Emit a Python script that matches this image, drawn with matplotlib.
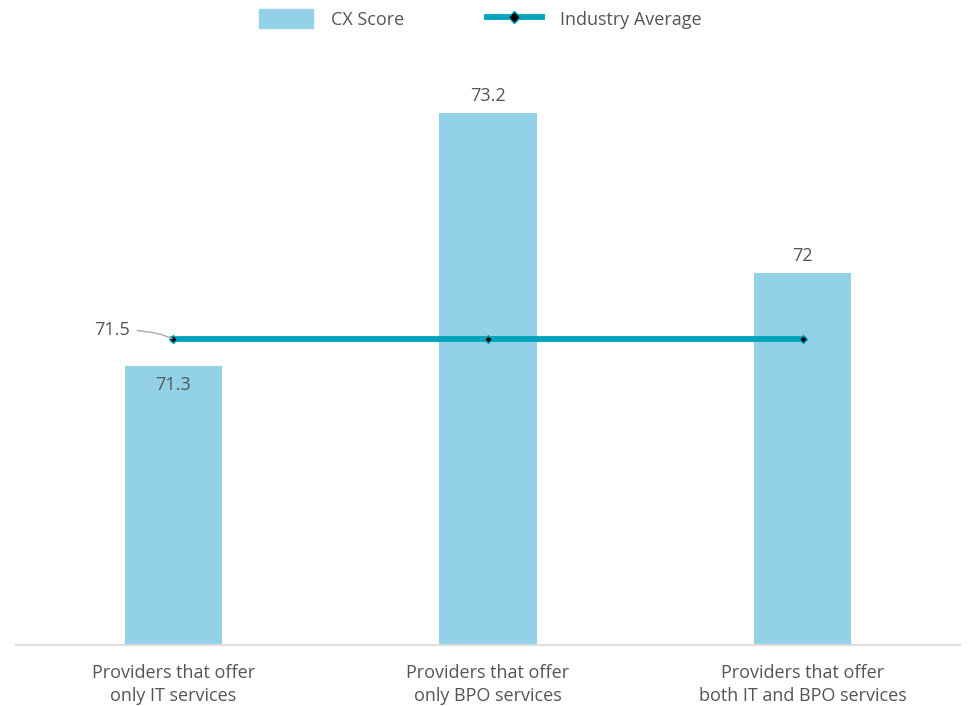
import matplotlib
matplotlib.use("Agg")
from matplotlib import pyplot as plt
from matplotlib.lines import Line2D
from matplotlib.patches import Patch

categories = ["Providers that offer\nonly IT services",
              "Providers that offer\nonly BPO services",
              "Providers that offer\nboth IT and BPO services"]
cx_score = [71.3, 73.2, 72.0]
score_labels = ["71.3", "73.2", "72"]
industry_avg = [71.5, 71.5, 71.5]

bar_col = "#92D1E8"
line_col = "#00A5BD"
txt_col = "#555555"

plt.rcParams["font.family"] = ["Open Sans", "DejaVu Sans"]

fig = plt.figure(figsize=(9.69, 7.06), dpi=100)
ax = fig.add_axes([16 / 969, 61 / 706, 944 / 969, 585 / 706])

x = list(range(len(categories)))
ax.bar(x, cx_score, width=0.31, color=bar_col, zorder=1)
ax.plot(x, industry_avg, color=line_col, lw=4.2, zorder=2,
        marker="D", ms=4, mfc="black", mec=line_col, mew=1)

ax.set_xlim(-0.5, 2.5)
ax.set_ylim(69.205, 73.598)

# value labels: the first one sits inside the bar, under the line
for i, (v, s) in enumerate(zip(cx_score, score_labels)):
    if i == 0:
        ax.annotate(s, (i, v), xytext=(0, -14), textcoords="offset points",
                    ha="center", va="center", fontsize=13, color=txt_col)
    else:
        ax.annotate(s, (i, v), xytext=(0, 12), textcoords="offset points",
                    ha="center", va="center", fontsize=13, color=txt_col)

ax.annotate("71.5", (0, industry_avg[0]), xytext=(-31, 7), textcoords="offset points",
            ha="right", va="center", fontsize=13, color=txt_col,
            arrowprops=dict(arrowstyle="-", color="#aaaaaa", lw=1,
                            shrinkA=3, shrinkB=1,
                            connectionstyle="angle3,angleA=0,angleB=-30"))

for s in ["top", "right", "left"]:
    ax.spines[s].set_visible(False)
ax.spines["bottom"].set_color("#dddddd")
ax.spines["bottom"].set_linewidth(1.5)
ax.set_yticks([])
ax.set_xticks(x)
ax.set_xticklabels(categories, fontsize=13, color=txt_col, linespacing=1.3)
ax.tick_params(axis="x", length=0, pad=14)

handles = [Patch(color=bar_col),
           Line2D([0], [0], color=line_col, lw=4.2, marker="D", ms=6,
                  mfc="black", mec=line_col)]
fig.legend(handles, ["CX Score", "Industry Average"], loc="center",
           bbox_to_anchor=(480 / 969, 1 - 19 / 706), ncol=2, frameon=False,
           fontsize=13, labelcolor=txt_col, handlelength=3.0, handleheight=1.2,
           handletextpad=1.0, columnspacing=4.6)

fig.savefig("out.png", dpi=100)
